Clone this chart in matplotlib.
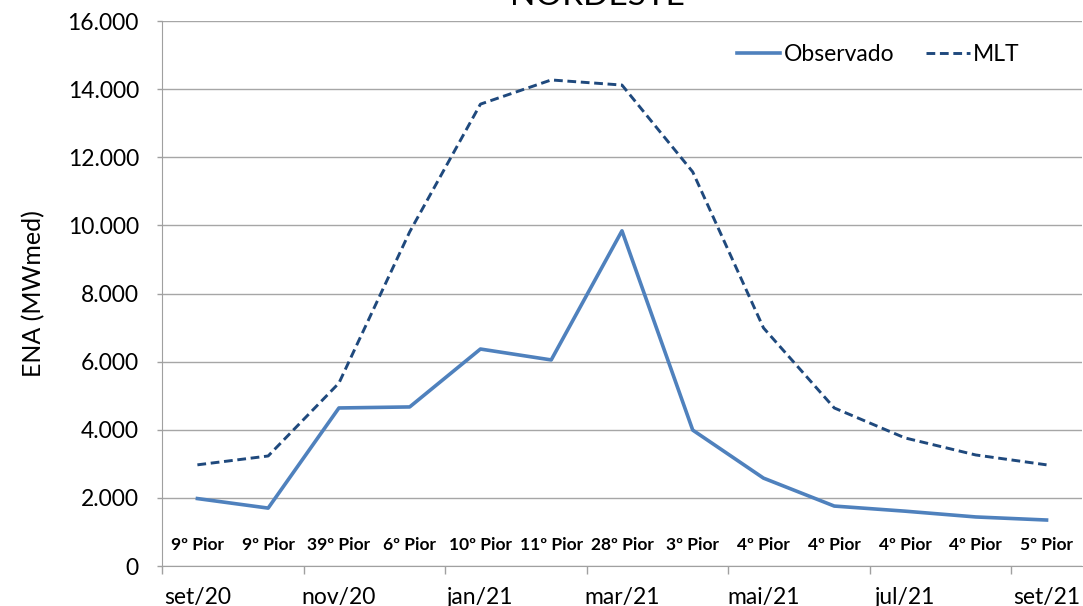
import matplotlib.pyplot as plt
from matplotlib.ticker import FuncFormatter

# monthly data, set/20 .. set/21
meses = ['set/20', 'out/20', 'nov/20', 'dez/20', 'jan/21', 'fev/21', 'mar/21',
         'abr/21', 'mai/21', 'jun/21', 'jul/21', 'ago/21', 'set/21']
observado = [1980, 1700, 4640, 4670, 6370, 6050, 9840, 3990, 2580, 1760, 1610, 1440, 1350]
mlt = [2970, 3230, 5370, 9810, 13560, 14270, 14120, 11570, 6990, 4640, 3760, 3260, 2970]
ranking = ['9º Pior', '9º Pior', '39º Pior', '6º Pior', '10º Pior', '11º Pior', '28º Pior',
           '3º Pior', '4º Pior', '4º Pior', '4º Pior', '4º Pior', '5º Pior']
tick_labels = meses[::2]

plt.rcParams['font.family'] = ['Lato', 'DejaVu Sans']

fig = plt.figure(figsize=(10.83, 6.06), dpi=100)
ax = fig.add_axes([0.1496, 0.066, 0.8494, 0.8993])

# points sit in the middle of each month
x = [i + 0.5 for i in range(len(meses))]
ax.plot(x, observado, color='#4F81BD', lw=2.6, label='Observado')
ax.plot(x, mlt, color='#1F497D', lw=2.1, ls=(0, (3, 1.6)), label='MLT')

for xi, r in zip(x, ranking):
    ax.text(xi, 620, r, ha='center', va='center', fontsize=12.5, fontweight='bold')

ax.set_xlim(0, 13)
ax.set_ylim(0, 16000)
ax.set_yticks(range(0, 16001, 2000))
ax.yaxis.set_major_formatter(FuncFormatter(lambda v, p: f'{int(v):,}'.replace(',', '.')))
# tick marks on month boundaries, labels centred on the month
ax.set_xticks(range(0, 13, 2))
ax.set_xticklabels([])
ax.set_xticks(x[::2], minor=True)
ax.set_xticklabels(tick_labels, minor=True)
ax.tick_params(axis='x', which='major', length=6, width=1, color='#A0A0A0')
ax.tick_params(axis='x', which='minor', length=0, pad=15, labelsize=16.5)
ax.tick_params(axis='y', length=3.6, width=1, color='#A0A0A0', pad=13, labelsize=16.5)
ax.grid(axis='y', color='#A6A6A6', lw=1)
ax.set_axisbelow(True)
for s in ['top', 'right']:
    ax.spines[s].set_visible(False)
for s in ['left', 'bottom']:
    ax.spines[s].set_color('#A0A0A0')
ax.set_ylabel('ENA (MWmed)', fontsize=18, labelpad=16)

ax.legend(loc='upper right', bbox_to_anchor=(0.955, 0.995), ncol=2, frameon=False,
          fontsize=16.5, handlelength=1.9, handletextpad=0.15, columnspacing=1.4)

fig.text(0.552, 0.992, 'NORDESTE', ha='center', va='baseline', fontsize=24)

fig.savefig('out.png', dpi=100)
